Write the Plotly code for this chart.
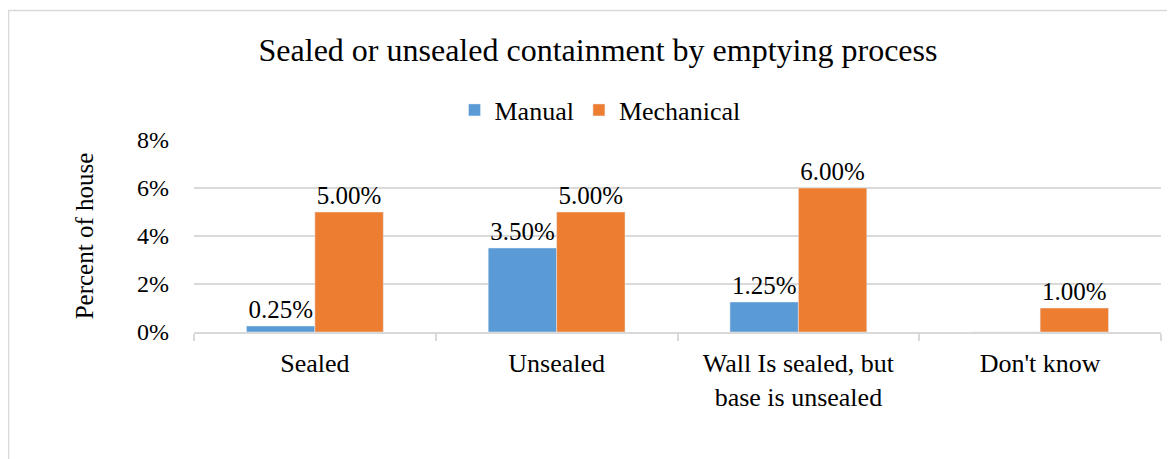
import plotly.graph_objects as go

categories = ["Sealed", "Unsealed", "Wall Is sealed, but<br>base is unsealed", "Don't know"]
manual = [0.25, 3.5, 1.25, 0]
mechanical = [5.0, 5.0, 6.0, 1.0]
y_ticks = [0, 2, 4, 6, 8]
y_tick_labels = ["0%", "2%", "4%", "6%", "8%"]

FONT = "Liberation Serif"

def labels(vals):
    return [f"{v:.2f}%" if v else "" for v in vals]

fig = go.Figure()
fig.add_trace(go.Bar(name="Manual", x=categories, y=manual, marker_color="#5B9BD5",
                     text=labels(manual), textposition="outside", cliponaxis=False,
                     textfont=dict(family=FONT, size=25, color="#000000")))
fig.add_trace(go.Bar(name="Mechanical", x=categories, y=mechanical, marker_color="#ED7D31",
                     text=labels(mechanical), textposition="outside", cliponaxis=False,
                     textfont=dict(family=FONT, size=25, color="#000000")))

# page has an 8px body margin, so the figure is offset by 8px
W, H = 1167, 451
L, R, T, B = 186, 14, 132, 127
pw, ph = W - L - R, H - T - B

fig.update_layout(
    width=W, height=H,
    margin=dict(l=L, r=R, t=T, b=B, autoexpand=False),
    paper_bgcolor="white", plot_bgcolor="white",
    font=dict(family=FONT, size=24, color="#000000"),
    barmode="group", bargap=0.434, bargroupgap=0,
    title=dict(text="Sealed or unsealed containment by emptying process",
               x=590 / W, xanchor="center", y=1 - 42 / H, yanchor="middle",
               font=dict(family=FONT, size=32, color="#000000")),
    showlegend=True,
    legend=dict(orientation="h", x=(592 - L) / pw, xanchor="center",
                y=(H - B - 102) / ph, yanchor="middle",
                font=dict(family=FONT, size=26), itemwidth=30, tracegroupgap=0,
                bgcolor="rgba(0,0,0,0)"),
    yaxis=dict(range=[0, 8], tickvals=y_ticks, ticktext=y_tick_labels,
               showgrid=True, gridcolor="#d9d9d9", gridwidth=1.5,
               zeroline=False, showline=False, ticks="",
               ticklabelstandoff=24,
               title=dict(text="Percent of house", standoff=36,
                          font=dict(family=FONT, size=25))),
    xaxis=dict(showline=True, linecolor="#d9d9d9", linewidth=1.5,
               ticks="outside", tickson="boundaries", ticklen=7, tickcolor="#d9d9d9",
               tickwidth=1.5, showgrid=False, ticklabelstandoff=7,
               tickfont=dict(family=FONT, size=26)),
)

# outer chart frame (cropped at right and bottom)
fig.add_shape(type="rect", xref="paper", yref="paper",
              x0=(0.5 - L) / pw, x1=(W + 20 - L) / pw,
              y0=(H - B - (H + 20)) / ph, y1=(H - B - 2.5) / ph,
              line=dict(color="#d9d9d9", width=1.5), fillcolor="rgba(0,0,0,0)", layer="below")

fig.write_html("out.html")
